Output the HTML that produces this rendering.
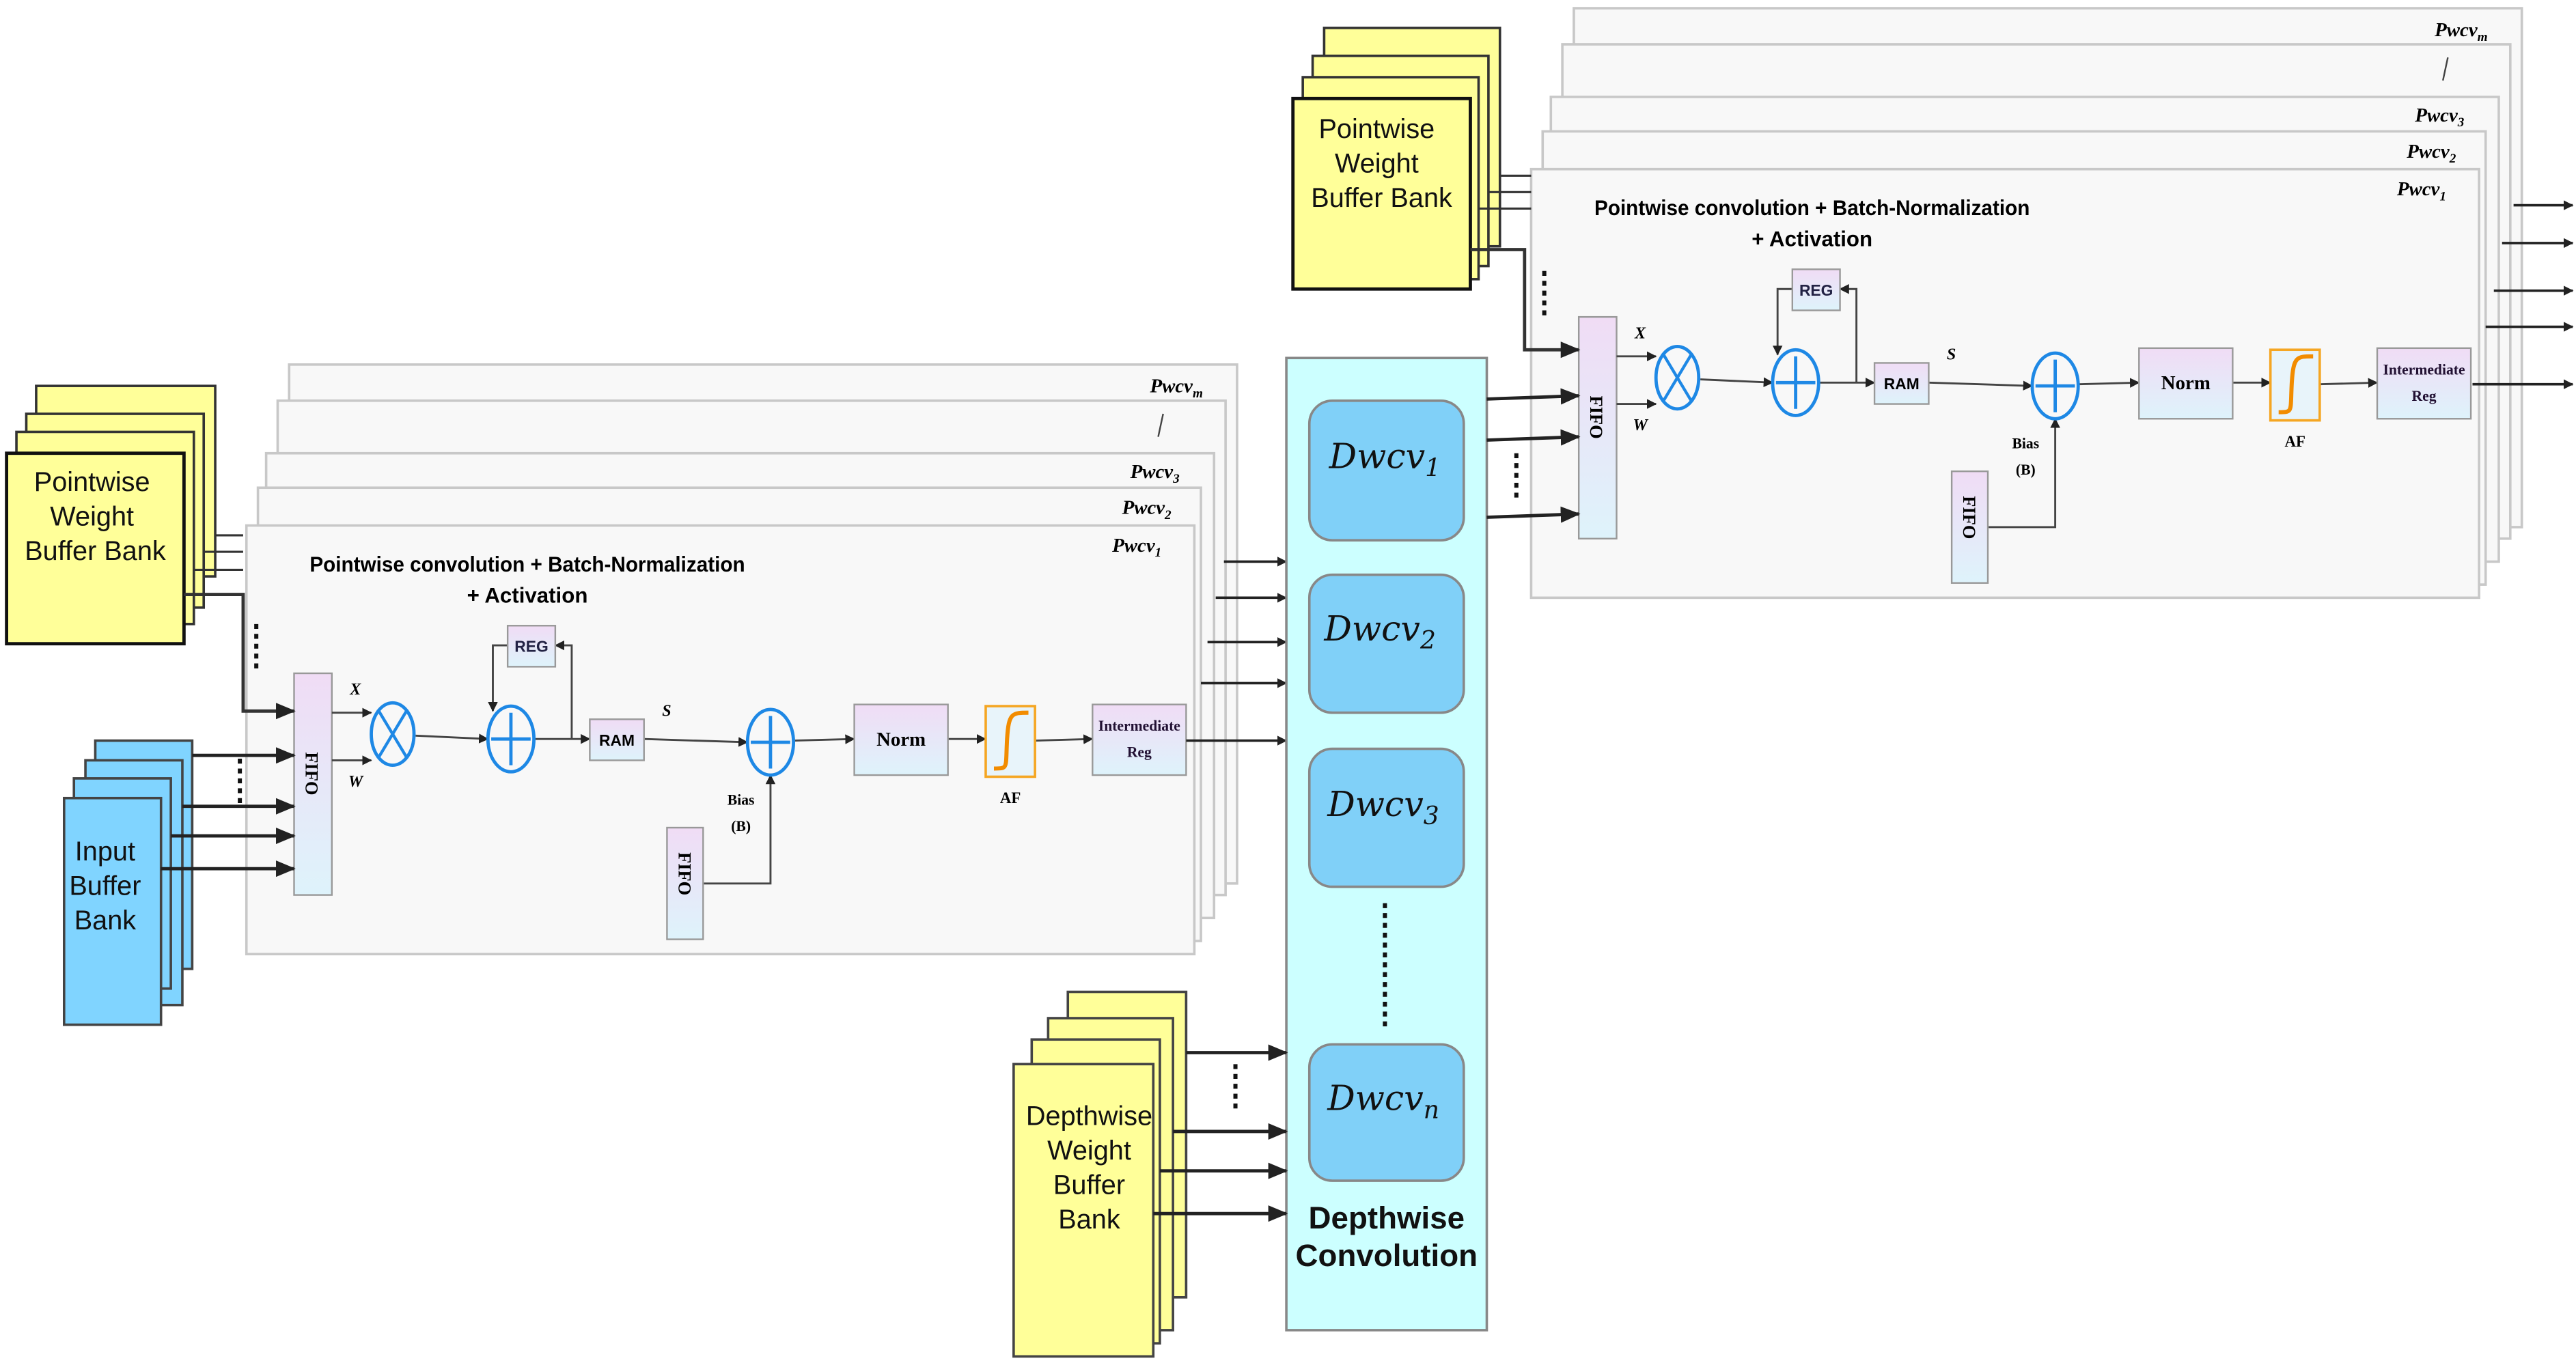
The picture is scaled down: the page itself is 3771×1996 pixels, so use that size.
<!DOCTYPE html>
<html><head><meta charset="utf-8"><style>
html,body{margin:0;padding:0;background:#fff;}
svg{display:block;}
.t{font-family:"Liberation Sans",sans-serif;}
.b{font-family:"Liberation Serif",serif;font-weight:bold;}
.pw{font-family:"Liberation Serif",serif;font-style:italic;font-weight:bold;font-size:12px;}
</style></head><body>
<svg width="3771" height="1996" viewBox="0 0 1568 830" preserveAspectRatio="none" xmlns="http://www.w3.org/2000/svg">
<defs>
<marker id="a" markerWidth="6" markerHeight="6" refX="5.5" refY="3" orient="auto" markerUnits="userSpaceOnUse"><path d="M0,0 L6,3 L0,6z" fill="#222"/></marker>
<marker id="A" markerWidth="12" markerHeight="10" refX="11" refY="5" orient="auto" markerUnits="userSpaceOnUse"><path d="M0,0 L12,5 L0,10z" fill="#222"/></marker>
<linearGradient id="g" x1="0" y1="0" x2="0" y2="1"><stop offset="0" stop-color="#f0dcf5"/><stop offset="1" stop-color="#def3fb"/></linearGradient>
</defs>
<rect width="1568" height="830" fill="#fff"/>

<!-- LEFT MODULE -->
<g id="mod">
<rect x="176" y="222" width="577" height="316" fill="#f8f8f8" stroke="#c8c8c8" stroke-width="1.5"/>
<rect x="169" y="244" width="577" height="301" fill="#f8f8f8" stroke="#c8c8c8" stroke-width="1.5"/>
<rect x="162" y="276" width="577" height="283" fill="#f8f8f8" stroke="#c8c8c8" stroke-width="1.5"/>
<rect x="157" y="297" width="574" height="276" fill="#f8f8f8" stroke="#c8c8c8" stroke-width="1.5"/>
<rect x="150" y="320" width="577" height="261" fill="#f8f8f8" stroke="#c8c8c8" stroke-width="1.5"/>
<text class="pw" x="700" y="239">Pwcv<tspan font-size="8" dy="3">m</tspan></text>
<line x1="708" y1="252" x2="705" y2="266" stroke="#444" stroke-width="1"/>
<text class="pw" x="688" y="291">Pwcv<tspan font-size="8" dy="3">3</tspan></text>
<text class="pw" x="683" y="313">Pwcv<tspan font-size="8" dy="3">2</tspan></text>
<text class="pw" x="677" y="336">Pwcv<tspan font-size="8" dy="3">1</tspan></text>
<text class="t" x="321" y="348" font-size="13" font-weight="bold" text-anchor="middle" textLength="265" lengthAdjust="spacingAndGlyphs">Pointwise convolution + Batch-Normalization</text>
<text class="t" x="321" y="367" font-size="13" font-weight="bold" text-anchor="middle">+ Activation</text>
<rect x="179" y="410" width="23" height="135" fill="url(#g)" stroke="#999"/>
<text class="b" font-size="11" transform="translate(186,458) rotate(90)">FIFO</text>
<text class="b" x="213" y="423" font-size="10" font-style="italic">X</text>
<text class="b" x="212" y="479" font-size="10" font-style="italic">W</text>
<g stroke="#444" stroke-width="1.2" fill="none">
<line x1="202" y1="434" x2="226" y2="434" marker-end="url(#a)"/>
<line x1="202" y1="463" x2="226" y2="463" marker-end="url(#a)"/>
<line x1="253" y1="448" x2="297" y2="450" marker-end="url(#a)"/>
<line x1="325" y1="450" x2="359" y2="450" marker-end="url(#a)"/>
<polyline points="348,450 348,393 338,393" marker-end="url(#a)"/>
<polyline points="309,393 300,393 300,433" marker-end="url(#a)"/>
<line x1="392" y1="450" x2="455" y2="452" marker-end="url(#a)"/>
<polyline points="428,538 469,538 469,472" marker-end="url(#a)"/>
<line x1="483" y1="451" x2="520" y2="450" marker-end="url(#a)"/>
<line x1="577" y1="450" x2="600" y2="450" marker-end="url(#a)"/>
<line x1="630" y1="451" x2="665" y2="450" marker-end="url(#a)"/>
</g>
<ellipse cx="239" cy="447" rx="13" ry="19" fill="none" stroke="#1e88e5" stroke-width="2"/>
<line x1="230" y1="432" x2="248" y2="462" stroke="#1e88e5" stroke-width="1.8"/>
<line x1="248" y1="432" x2="230" y2="462" stroke="#1e88e5" stroke-width="1.8"/>
<ellipse cx="311" cy="450" rx="14" ry="20" fill="none" stroke="#1e88e5" stroke-width="2"/>
<path d="M311,434 V466 M299,450 H323" stroke="#1e88e5" stroke-width="2"/>
<rect x="309" y="381" width="29" height="25" fill="url(#g)" stroke="#999"/>
<text class="t" x="323.5" y="397" font-size="9.5" font-weight="bold" fill="#224" text-anchor="middle">REG</text>
<rect x="359" y="438" width="33" height="25" fill="url(#g)" stroke="#999"/>
<text class="t" x="375.5" y="454" font-size="9.5" font-weight="bold" text-anchor="middle">RAM</text>
<text class="b" x="403" y="436" font-size="10" font-style="italic">S</text>
<ellipse cx="469" cy="452" rx="14" ry="20" fill="none" stroke="#1e88e5" stroke-width="2"/>
<path d="M469,436 V468 M457,452 H481" stroke="#1e88e5" stroke-width="2"/>
<text class="b" x="451" y="490" font-size="9" text-anchor="middle">Bias</text>
<text class="b" x="451" y="506" font-size="9" text-anchor="middle">(B)</text>
<rect x="406" y="504" width="22" height="68" fill="url(#g)" stroke="#999"/>
<text class="b" font-size="11" transform="translate(413,519) rotate(90)">FIFO</text>
<rect x="520" y="429" width="57" height="43" fill="url(#g)" stroke="#999"/>
<text class="b" x="548.5" y="454" font-size="12" text-anchor="middle">Norm</text>
<rect x="600" y="430" width="30" height="43" fill="#e8f4fa" stroke="#f5a623" stroke-width="1.5"/>
<path d="M605,468 C614,468 612,468 613,450 C614,434 616,434 626,434" fill="none" stroke="#f28c00" stroke-width="2.5"/>
<text class="b" x="615" y="489" font-size="9.5" text-anchor="middle">AF</text>
<rect x="665" y="429" width="57" height="43" fill="url(#g)" stroke="#999"/>
<text class="b" x="693.5" y="445" font-size="9" fill="#213" text-anchor="middle">Intermediate</text>
<text class="b" x="693.5" y="461" font-size="9" fill="#213" text-anchor="middle">Reg</text>
</g>

<!-- left yellow stack -->
<g stroke="#333" stroke-width="1.5" fill="#ffff99">
<rect x="22" y="235" width="109" height="116"/>
<rect x="16" y="252" width="108" height="118"/>
<rect x="10" y="263" width="108" height="117"/>
<rect x="4" y="276" width="108" height="116" stroke="#111" stroke-width="2"/>
</g>
<g class="t" font-size="16.5" text-anchor="middle" fill="#111">
<text x="56" y="299">Pointwise</text><text x="56" y="320">Weight</text><text x="58" y="341">Buffer Bank</text>
</g>
<g stroke="#333" stroke-width="1.3" fill="none">
<line x1="131" y1="326" x2="148" y2="326"/>
<line x1="124" y1="336" x2="148" y2="336"/>
<line x1="118" y1="347" x2="148" y2="347"/>
<polyline points="112,362 148,362 148,433 179,433" stroke-width="2" marker-end="url(#A)"/>
</g>
<line x1="156" y1="380" x2="156" y2="410" stroke="#111" stroke-width="2.5" stroke-dasharray="3,3"/>

<!-- blue input stack -->
<g stroke="#444" stroke-width="1.5" fill="#80d4ff">
<rect x="58" y="451" width="59" height="139"/>
<rect x="52" y="463" width="59" height="149"/>
<rect x="45" y="474" width="59" height="128"/>
<rect x="39" y="486" width="59" height="138"/>
</g>
<g class="t" font-size="16.5" text-anchor="middle" fill="#111">
<text x="64" y="524">Input</text><text x="64" y="545">Buffer</text><text x="64" y="566">Bank</text>
</g>
<g stroke="#222" stroke-width="2" fill="none">
<line x1="117" y1="460" x2="179" y2="460" marker-end="url(#A)"/>
<line x1="111" y1="491" x2="179" y2="491" marker-end="url(#A)"/>
<line x1="104" y1="509" x2="179" y2="509" marker-end="url(#A)"/>
<line x1="98" y1="529" x2="179" y2="529" marker-end="url(#A)"/>
</g>
<line x1="146" y1="462" x2="146" y2="490" stroke="#111" stroke-width="2.5" stroke-dasharray="3,3"/>

<!-- left outputs -->
<g stroke="#222" stroke-width="1.5">
<line x1="745" y1="342" x2="783" y2="342" marker-end="url(#a)"/>
<line x1="740" y1="364" x2="783" y2="364" marker-end="url(#a)"/>
<line x1="735" y1="391" x2="783" y2="391" marker-end="url(#a)"/>
<line x1="731" y1="416" x2="783" y2="416" marker-end="url(#a)"/>
<line x1="722" y1="451" x2="783" y2="451" marker-end="url(#a)"/>
</g>

<!-- depthwise -->
<rect x="783" y="218" width="122" height="592" fill="#ccffff" stroke="#888" stroke-width="1.5"/>
<g fill="#80d0f8" stroke="#888" stroke-width="1.5">
<rect x="797" y="244" width="94" height="85" rx="14"/>
<rect x="797" y="350" width="94" height="84" rx="14"/>
<rect x="797" y="456" width="94" height="84" rx="14"/>
<rect x="797" y="636" width="94" height="83" rx="14"/>
</g>
<g font-family="'DejaVu Serif','Liberation Serif',serif" font-style="italic" font-size="21" fill="#111">
<text x="809" y="285">Dwcv<tspan font-size="15" dy="5">1</tspan></text>
<text x="806" y="390">Dwcv<tspan font-size="15" dy="5">2</tspan></text>
<text x="808" y="497">Dwcv<tspan font-size="15" dy="5">3</tspan></text>
<text x="808" y="676">Dwcv<tspan font-size="15" dy="5">n</tspan></text>
</g>
<line x1="843" y1="550" x2="843" y2="626" stroke="#111" stroke-width="2.5" stroke-dasharray="3,3"/>
<g class="t" font-size="19" font-weight="bold" text-anchor="middle" fill="#111">
<text x="844" y="748">Depthwise</text><text x="844" y="771">Convolution</text>
</g>

<!-- depthwise weight stack -->
<g stroke="#444" stroke-width="1.5" fill="#ffff99">
<rect x="650" y="604" width="72" height="186"/>
<rect x="638" y="620" width="76" height="190"/>
<rect x="628" y="633" width="78" height="185"/>
<rect x="617" y="648" width="85" height="178"/>
</g>
<g class="t" font-size="16.5" text-anchor="middle" fill="#111">
<text x="663" y="685">Depthwise</text><text x="663" y="706">Weight</text><text x="663" y="727">Buffer</text><text x="663" y="748">Bank</text>
</g>
<g stroke="#222" stroke-width="2">
<line x1="722" y1="641" x2="783" y2="641" marker-end="url(#A)"/>
<line x1="714" y1="689" x2="783" y2="689" marker-end="url(#A)"/>
<line x1="706" y1="713" x2="783" y2="713" marker-end="url(#A)"/>
<line x1="702" y1="739" x2="783" y2="739" marker-end="url(#A)"/>
</g>
<line x1="752" y1="648" x2="752" y2="677" stroke="#111" stroke-width="2.5" stroke-dasharray="3,3"/>

<!-- RIGHT MODULE (copy) -->
<g transform="translate(782,-217)">
<rect x="176" y="222" width="577" height="316" fill="#f8f8f8" stroke="#c8c8c8" stroke-width="1.5"/>
<rect x="169" y="244" width="577" height="301" fill="#f8f8f8" stroke="#c8c8c8" stroke-width="1.5"/>
<rect x="162" y="276" width="577" height="283" fill="#f8f8f8" stroke="#c8c8c8" stroke-width="1.5"/>
<rect x="157" y="297" width="574" height="276" fill="#f8f8f8" stroke="#c8c8c8" stroke-width="1.5"/>
<rect x="150" y="320" width="577" height="261" fill="#f8f8f8" stroke="#c8c8c8" stroke-width="1.5"/>
<text class="pw" x="700" y="239">Pwcv<tspan font-size="8" dy="3">m</tspan></text>
<line x1="708" y1="252" x2="705" y2="266" stroke="#444" stroke-width="1"/>
<text class="pw" x="688" y="291">Pwcv<tspan font-size="8" dy="3">3</tspan></text>
<text class="pw" x="683" y="313">Pwcv<tspan font-size="8" dy="3">2</tspan></text>
<text class="pw" x="677" y="336">Pwcv<tspan font-size="8" dy="3">1</tspan></text>
<text class="t" x="321" y="348" font-size="13" font-weight="bold" text-anchor="middle" textLength="265" lengthAdjust="spacingAndGlyphs">Pointwise convolution + Batch-Normalization</text>
<text class="t" x="321" y="367" font-size="13" font-weight="bold" text-anchor="middle">+ Activation</text>
<rect x="179" y="410" width="23" height="135" fill="url(#g)" stroke="#999"/>
<text class="b" font-size="11" transform="translate(186,458) rotate(90)">FIFO</text>
<text class="b" x="213" y="423" font-size="10" font-style="italic">X</text>
<text class="b" x="212" y="479" font-size="10" font-style="italic">W</text>
<g stroke="#444" stroke-width="1.2" fill="none">
<line x1="202" y1="434" x2="226" y2="434" marker-end="url(#a)"/>
<line x1="202" y1="463" x2="226" y2="463" marker-end="url(#a)"/>
<line x1="253" y1="448" x2="297" y2="450" marker-end="url(#a)"/>
<line x1="325" y1="450" x2="359" y2="450" marker-end="url(#a)"/>
<polyline points="348,450 348,393 338,393" marker-end="url(#a)"/>
<polyline points="309,393 300,393 300,433" marker-end="url(#a)"/>
<line x1="392" y1="450" x2="455" y2="452" marker-end="url(#a)"/>
<polyline points="428,538 469,538 469,472" marker-end="url(#a)"/>
<line x1="483" y1="451" x2="520" y2="450" marker-end="url(#a)"/>
<line x1="577" y1="450" x2="600" y2="450" marker-end="url(#a)"/>
<line x1="630" y1="451" x2="665" y2="450" marker-end="url(#a)"/>
</g>
<ellipse cx="239" cy="447" rx="13" ry="19" fill="none" stroke="#1e88e5" stroke-width="2"/>
<line x1="230" y1="432" x2="248" y2="462" stroke="#1e88e5" stroke-width="1.8"/>
<line x1="248" y1="432" x2="230" y2="462" stroke="#1e88e5" stroke-width="1.8"/>
<ellipse cx="311" cy="450" rx="14" ry="20" fill="none" stroke="#1e88e5" stroke-width="2"/>
<path d="M311,434 V466 M299,450 H323" stroke="#1e88e5" stroke-width="2"/>
<rect x="309" y="381" width="29" height="25" fill="url(#g)" stroke="#999"/>
<text class="t" x="323.5" y="397" font-size="9.5" font-weight="bold" fill="#224" text-anchor="middle">REG</text>
<rect x="359" y="438" width="33" height="25" fill="url(#g)" stroke="#999"/>
<text class="t" x="375.5" y="454" font-size="9.5" font-weight="bold" text-anchor="middle">RAM</text>
<text class="b" x="403" y="436" font-size="10" font-style="italic">S</text>
<ellipse cx="469" cy="452" rx="14" ry="20" fill="none" stroke="#1e88e5" stroke-width="2"/>
<path d="M469,436 V468 M457,452 H481" stroke="#1e88e5" stroke-width="2"/>
<text class="b" x="451" y="490" font-size="9" text-anchor="middle">Bias</text>
<text class="b" x="451" y="506" font-size="9" text-anchor="middle">(B)</text>
<rect x="406" y="504" width="22" height="68" fill="url(#g)" stroke="#999"/>
<text class="b" font-size="11" transform="translate(413,519) rotate(90)">FIFO</text>
<rect x="520" y="429" width="57" height="43" fill="url(#g)" stroke="#999"/>
<text class="b" x="548.5" y="454" font-size="12" text-anchor="middle">Norm</text>
<rect x="600" y="430" width="30" height="43" fill="#e8f4fa" stroke="#f5a623" stroke-width="1.5"/>
<path d="M605,468 C614,468 612,468 613,450 C614,434 616,434 626,434" fill="none" stroke="#f28c00" stroke-width="2.5"/>
<text class="b" x="615" y="489" font-size="9.5" text-anchor="middle">AF</text>
<rect x="665" y="429" width="57" height="43" fill="url(#g)" stroke="#999"/>
<text class="b" x="693.5" y="445" font-size="9" fill="#213" text-anchor="middle">Intermediate</text>
<text class="b" x="693.5" y="461" font-size="9" fill="#213" text-anchor="middle">Reg</text>
</g>

<!-- right yellow stack -->
<g stroke="#333" stroke-width="1.5" fill="#ffff99">
<rect x="806" y="17" width="107" height="133"/>
<rect x="799" y="34" width="107" height="128"/>
<rect x="793" y="47" width="107" height="123"/>
<rect x="787" y="60" width="108" height="116" stroke="#111" stroke-width="2"/>
</g>
<g class="t" font-size="16.5" text-anchor="middle" fill="#111">
<text x="838" y="84">Pointwise</text><text x="838" y="105">Weight</text><text x="841" y="126">Buffer Bank</text>
</g>
<g stroke="#333" stroke-width="1.3" fill="none">
<line x1="913" y1="107" x2="932" y2="107"/>
<line x1="906" y1="117" x2="932" y2="117"/>
<line x1="900" y1="127" x2="932" y2="127"/>
<polyline points="895,152 928,152 928,213 961,213" stroke-width="2" marker-end="url(#A)"/>
</g>
<line x1="940" y1="165" x2="940" y2="194" stroke="#111" stroke-width="2.5" stroke-dasharray="3,3"/>
<g stroke="#222" stroke-width="2">
<line x1="905" y1="243" x2="961" y2="241" marker-end="url(#A)"/>
<line x1="905" y1="268" x2="961" y2="266" marker-end="url(#A)"/>
<line x1="905" y1="315" x2="961" y2="313" marker-end="url(#A)"/>
</g>
<line x1="923" y1="276" x2="923" y2="304" stroke="#111" stroke-width="2.5" stroke-dasharray="3,3"/>

<!-- right outputs -->
<g stroke="#222" stroke-width="1.5">
<line x1="1530" y1="125" x2="1566" y2="125" marker-end="url(#a)"/>
<line x1="1523" y1="148" x2="1566" y2="148" marker-end="url(#a)"/>
<line x1="1518" y1="177" x2="1566" y2="177" marker-end="url(#a)"/>
<line x1="1513" y1="199" x2="1566" y2="199" marker-end="url(#a)"/>
<line x1="1505" y1="234" x2="1566" y2="234" marker-end="url(#a)"/>
</g>
</svg>
</body></html>
